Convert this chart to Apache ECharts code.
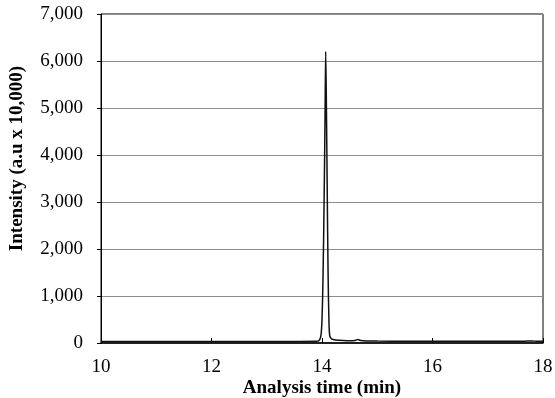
<!DOCTYPE html>
<html>
<head>
<meta charset="utf-8">
<script src="https://cdn.jsdelivr.net/npm/echarts@6/dist/echarts.min.js"></script>
<style>
  html, body { margin: 0; padding: 0; background: #fff; }
  #main { width: 555px; height: 398px; }
</style>
</head>
<body>
<div id="main"></div>
<script>
    // retention time (min) and intensity (a.u x 10,000)
    var times = [10, 10.5, 11, 11.5, 12, 12.5, 13, 13.5, 13.9, 13.95, 13.98, 14.0, 14.02, 14.04, 14.055, 14.067,
                 14.08, 14.095, 14.11, 14.125, 14.14, 14.17, 14.2, 14.3, 14.45, 14.6, 14.65, 14.7, 14.8,
                 15, 15.5, 16, 16.5, 17, 17.5, 17.7, 17.8, 17.9, 18];
    var intensity = [30, 30, 30, 30, 30, 30, 30, 32, 35, 60, 150, 500, 1500, 3200, 4800, 6200,
                     5000, 3200, 1500, 500, 150, 90, 75, 60, 50, 55, 75, 55, 45,
                     40, 38, 35, 35, 35, 35, 40, 45, 35, 35];

    var xTicks = [10, 12, 14, 16, 18];
    var yTicks = [0, 1000, 2000, 3000, 4000, 5000, 6000, 7000];

    var data = [];
    for (var i = 0; i < times.length; i++) {
        data.push([times[i], intensity[i]]);
    }

    var font = 'Liberation Serif';

    var myChart = echarts.init(document.getElementById('main'));
    var option = {
        animation: false,
        grid: {
            left: 101,
            right: 12,
            top: 14,
            bottom: 55,
            outerBoundsMode: 'none',
            show: true,
            borderColor: '#000',
            borderWidth: 1
        },
        xAxis: {
            type: 'value',
            min: xTicks[0],
            max: xTicks[xTicks.length - 1],
            interval: 2,
            name: 'Analysis time (min)',
            nameLocation: 'middle',
            nameGap: 36,
            nameMoveOverlap: false,
            nameTextStyle: { fontFamily: font, fontWeight: 'bold', fontSize: 19, color: '#000' },
            axisLine: { lineStyle: { color: '#000', width: 1.5 } },
            axisTick: { inside: true, length: 5, lineStyle: { color: '#000' } },
            axisLabel: { fontFamily: font, fontSize: 19, color: '#000', margin: 15 },
            splitLine: { show: false }
        },
        yAxis: {
            type: 'value',
            min: yTicks[0],
            max: yTicks[yTicks.length - 1],
            interval: 1000,
            name: 'Intensity (a.u x 10,000)',
            nameLocation: 'middle',
            nameGap: 74,
            nameMoveOverlap: false,
            nameTextStyle: {
                fontFamily: font, fontWeight: 'bold', fontSize: 19, color: '#000',
                padding: [0, 0, 0, 40]
            },
            axisLine: { show: true, lineStyle: { color: '#000', width: 1 } },
            axisTick: { show: true, length: 4, lineStyle: { color: '#000' } },
            axisLabel: {
                fontFamily: font, fontSize: 19, color: '#000', margin: 18,
                formatter: function (v) { return v.toLocaleString('en-US'); }
            },
            splitLine: { show: true, lineStyle: { color: '#8c8c8c', width: 1 } }
        },
        series: [{
            type: 'line',
            data: data,
            showSymbol: false,
            smooth: 0.3,
            lineStyle: { color: '#111', width: 1.5 }
        }]
    };
    myChart.setOption(option);
</script>
</body>
</html>
